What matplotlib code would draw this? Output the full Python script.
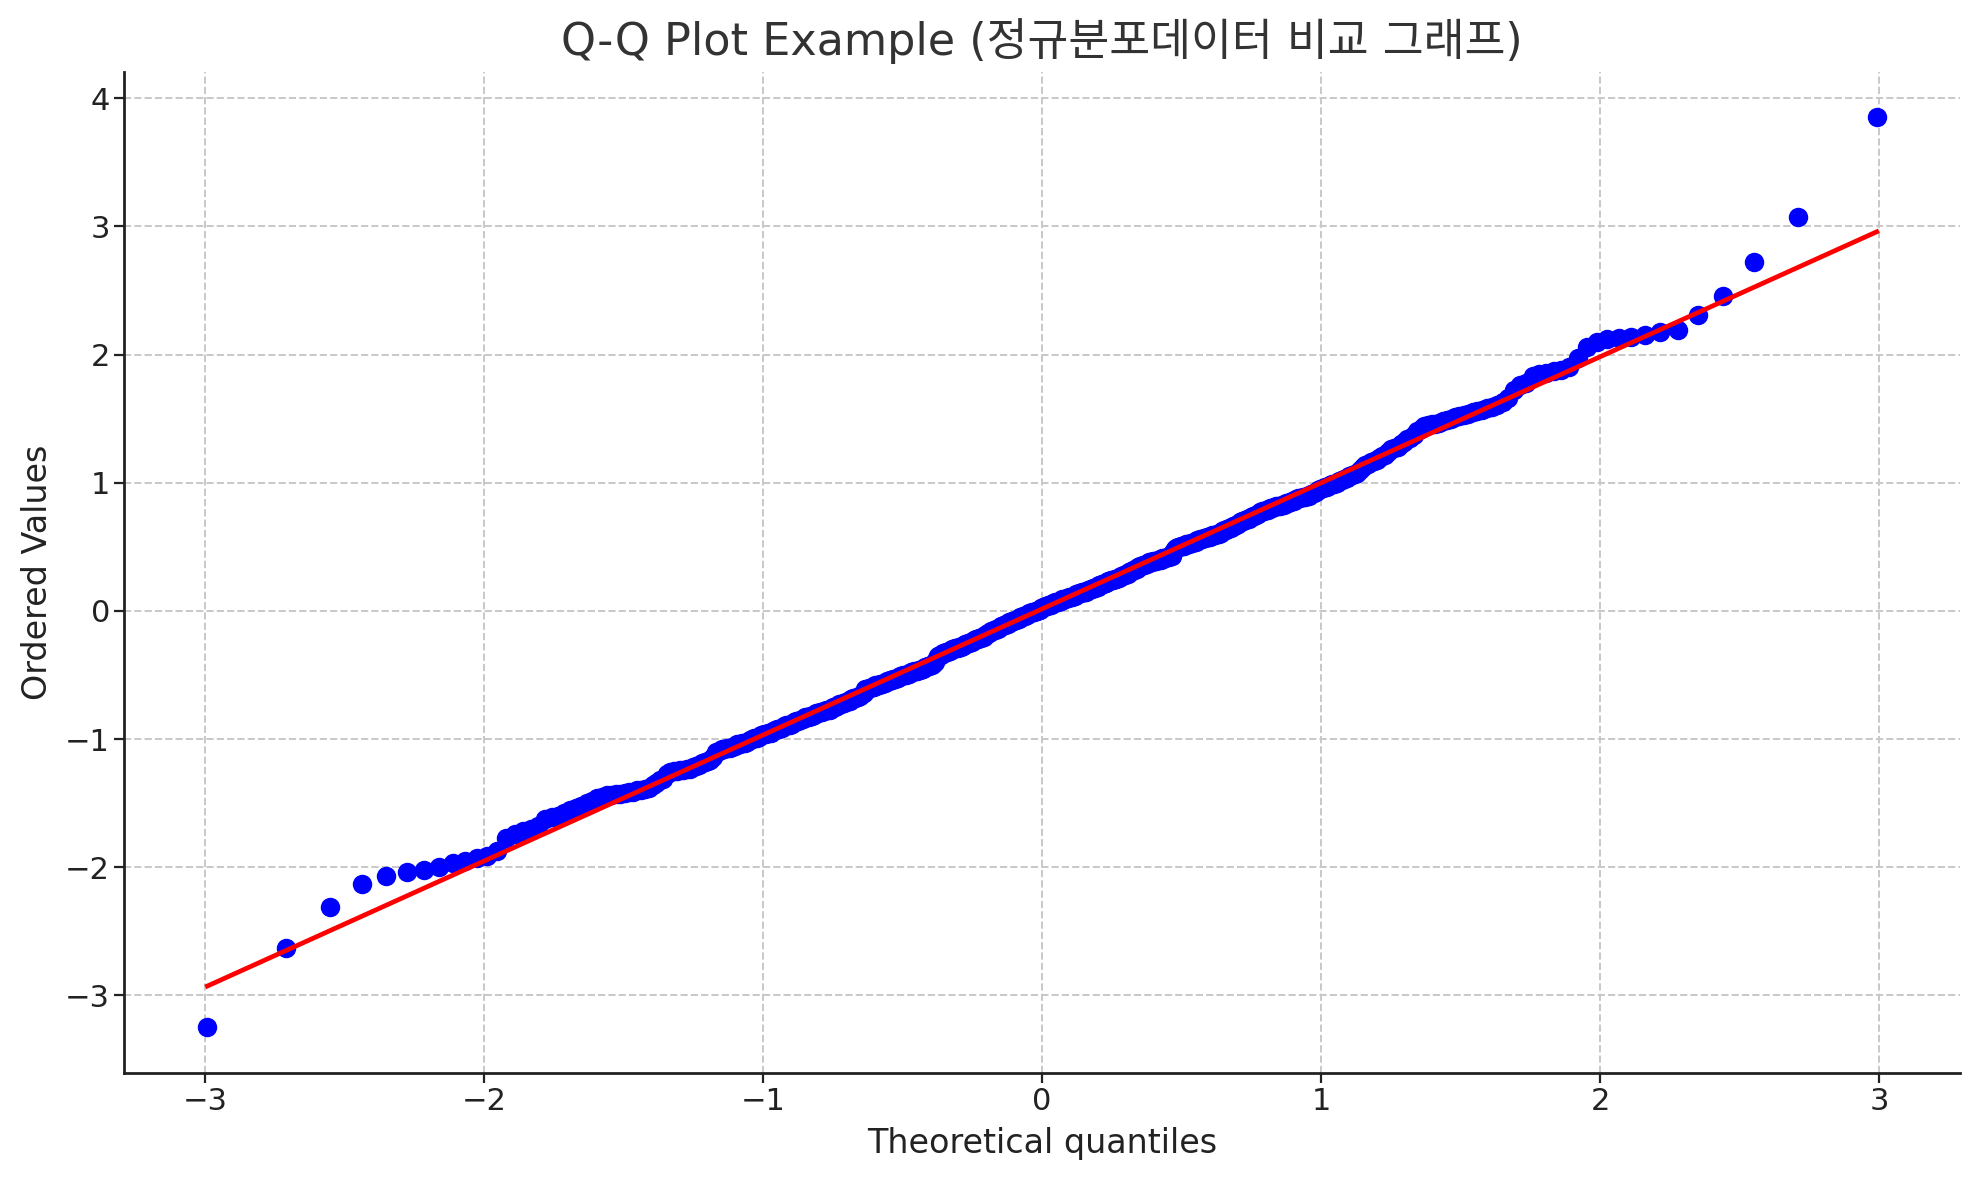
import numpy as np
import matplotlib
matplotlib.use("Agg")
import matplotlib.pyplot as plt
from statistics import NormalDist

title_text = "Q-Q Plot Example (정규분포데이터 비교 그래프)"
x_label = "Theoretical quantiles"
y_label = "Ordered Values"
x_ticks = [-3, -2, -1, 0, 1, 2, 3]
y_ticks = [-3, -2, -1, 0, 1, 2, 3, 4]

# ordered sample values (500 points)
ordered_low = [
    -3.25, -2.63, -2.31, -2.13, -2.07, -2.04, -2.02, -2.00, -1.97, -1.95,
    -1.93, -1.91, -1.87, -1.77, -1.74, -1.72, -1.70, -1.68, -1.62, -1.61,
    -1.60, -1.58, -1.55, -1.54, -1.52, -1.50, -1.48, -1.46, -1.45, -1.44,
    -1.44, -1.43, -1.43, -1.42, -1.41, -1.41, -1.40, -1.40, -1.39, -1.38,
    -1.36, -1.34, -1.32, -1.31, -1.27, -1.26, -1.25, -1.25, -1.24, -1.24,
    -1.23, -1.23, -1.22, -1.21, -1.20, -1.19, -1.18, -1.17, -1.16, -1.14,
    -1.10, -1.09, -1.08, -1.08, -1.07, -1.07, -1.06, -1.05, -1.04, -1.04,
    -1.03, -1.03, -1.02, -1.01, -1.00, -0.99, -0.99, -0.98, -0.97, -0.96,
    -0.96, -0.95, -0.95, -0.94, -0.93, -0.92, -0.92, -0.91, -0.90, -0.89,
    -0.89, -0.89, -0.88, -0.87, -0.86, -0.86, -0.85, -0.84, -0.83, -0.83,
    -0.83, -0.82, -0.82, -0.81, -0.80, -0.80, -0.79, -0.79, -0.78, -0.77,
    -0.77, -0.77, -0.76, -0.75, -0.75, -0.74, -0.73, -0.73, -0.72, -0.72,
    -0.71, -0.70, -0.70, -0.69, -0.68, -0.68, -0.67, -0.67, -0.66, -0.65,
    -0.64, -0.61, -0.61, -0.60, -0.60, -0.59, -0.59, -0.58, -0.58, -0.58,
    -0.57, -0.57, -0.56, -0.56, -0.55, -0.55, -0.54, -0.54, -0.53, -0.53,
    -0.52, -0.52, -0.51, -0.51, -0.50, -0.50, -0.50, -0.49, -0.49, -0.48,
    -0.48, -0.47, -0.47, -0.47, -0.46, -0.46, -0.45, -0.45, -0.44, -0.44,
    -0.43, -0.43, -0.42, -0.42, -0.41, -0.40, -0.37, -0.35, -0.34, -0.34,
    -0.33, -0.33, -0.32, -0.32, -0.31, -0.31, -0.30, -0.30, -0.29, -0.29,
    -0.29, -0.28, -0.28, -0.27, -0.27, -0.26, -0.26, -0.25, -0.25, -0.24,
    -0.24, -0.23, -0.23, -0.22, -0.22, -0.21, -0.21, -0.20, -0.20, -0.19,
    -0.18, -0.17, -0.17, -0.16, -0.16, -0.15, -0.15, -0.14, -0.14, -0.13,
    -0.12, -0.12, -0.11, -0.11, -0.10, -0.10, -0.09, -0.09, -0.08, -0.08,
    -0.07, -0.07, -0.06, -0.06, -0.05, -0.05, -0.04, -0.04, -0.03, -0.03,
    -0.02, -0.02, -0.01, -0.01, -0.01, 0.00, 0.00, 0.01, 0.01, 0.02,
]
ordered_high = [
    0.03, 0.03, 0.04, 0.04, 0.05, 0.05, 0.05, 0.06, 0.06, 0.07,
    0.07, 0.07, 0.08, 0.08, 0.09, 0.09, 0.09, 0.10, 0.10, 0.11,
    0.11, 0.11, 0.12, 0.12, 0.13, 0.13, 0.14, 0.14, 0.15, 0.15,
    0.15, 0.15, 0.16, 0.16, 0.17, 0.17, 0.18, 0.18, 0.19, 0.19,
    0.20, 0.20, 0.21, 0.21, 0.22, 0.22, 0.23, 0.23, 0.24, 0.24,
    0.24, 0.25, 0.25, 0.26, 0.26, 0.27, 0.27, 0.28, 0.28, 0.29,
    0.29, 0.30, 0.31, 0.31, 0.32, 0.33, 0.33, 0.34, 0.35, 0.35,
    0.36, 0.36, 0.37, 0.37, 0.38, 0.38, 0.38, 0.39, 0.39, 0.39,
    0.40, 0.40, 0.40, 0.41, 0.41, 0.41, 0.42, 0.42, 0.43, 0.43,
    0.46, 0.48, 0.49, 0.50, 0.50, 0.51, 0.51, 0.51, 0.52, 0.52,
    0.52, 0.53, 0.53, 0.54, 0.54, 0.55, 0.55, 0.56, 0.56, 0.57,
    0.57, 0.58, 0.58, 0.58, 0.59, 0.59, 0.59, 0.60, 0.60, 0.61,
    0.62, 0.63, 0.63, 0.64, 0.65, 0.65, 0.66, 0.66, 0.67, 0.68,
    0.69, 0.70, 0.70, 0.71, 0.72, 0.72, 0.73, 0.74, 0.74, 0.75,
    0.76, 0.77, 0.78, 0.78, 0.79, 0.79, 0.80, 0.80, 0.81, 0.82,
    0.82, 0.82, 0.83, 0.83, 0.84, 0.84, 0.85, 0.86, 0.86, 0.87,
    0.88, 0.88, 0.89, 0.89, 0.90, 0.90, 0.91, 0.92, 0.93, 0.94,
    0.95, 0.96, 0.97, 0.97, 0.98, 0.99, 0.99, 1.00, 1.01, 1.02,
    1.03, 1.04, 1.05, 1.06, 1.07, 1.08, 1.10, 1.12, 1.14, 1.15,
    1.16, 1.17, 1.18, 1.19, 1.21, 1.22, 1.24, 1.26, 1.27, 1.28,
    1.30, 1.32, 1.34, 1.35, 1.37, 1.40, 1.42, 1.44, 1.45, 1.46,
    1.46, 1.47, 1.48, 1.49, 1.50, 1.51, 1.52, 1.53, 1.54, 1.55,
    1.56, 1.57, 1.58, 1.59, 1.61, 1.63, 1.66, 1.72, 1.76, 1.78,
    1.83, 1.85, 1.86, 1.87, 1.88, 1.90, 1.97, 2.06, 2.10, 2.12,
    2.13, 2.14, 2.15, 2.18, 2.19, 2.31, 2.46, 2.72, 3.07, 3.85,
]
ordered_values = np.array(ordered_low + ordered_high)

# theoretical quantiles (Filliben plotting positions, as scipy.stats.probplot)
n = len(ordered_values)
nd = NormalDist()
positions = [(i - 0.3175) / (n + 0.365) for i in range(1, n + 1)]
positions[0] = 1 - 0.5 ** (1.0 / n)
positions[-1] = 0.5 ** (1.0 / n)
theoretical = np.array([nd.inv_cdf(p) for p in positions])

slope, intercept = np.polyfit(theoretical, ordered_values, 1)

plt.rcParams['font.family'] = ['DejaVu Sans', 'Noto Sans CJK KR']

fig = plt.figure(figsize=(9.9, 5.9), dpi=200)
ax = fig.add_axes([0.0626, 0.0907, 0.990 - 0.0626, 0.939 - 0.0907])

ax.plot(theoretical, ordered_values, 'o', color='#0000ff', markersize=6, zorder=3)
ax.plot(theoretical, intercept + slope * theoretical, '-', color='#ff0000', linewidth=1.7, zorder=4)

ax.set_xticks(x_ticks)
ax.set_yticks(y_ticks)
ax.tick_params(labelsize=11, colors='#222222', length=3.5, pad=1.5)
ax.grid(True, linestyle='--', color='#c8c8c8', linewidth=0.7)
ax.set_axisbelow(True)
for s in ['top', 'right']:
    ax.spines[s].set_visible(False)
for s in ['left', 'bottom']:
    ax.spines[s].set_color('#222222')
    ax.spines[s].set_linewidth(1.0)

ax.set_xlabel(x_label, fontsize=12, color='#222222')
ax.set_ylabel(y_label, fontsize=12, color='#222222')
ax.set_title(title_text, fontsize=16, color='#333333', pad=6)

fig.savefig('out.png', dpi=200)
